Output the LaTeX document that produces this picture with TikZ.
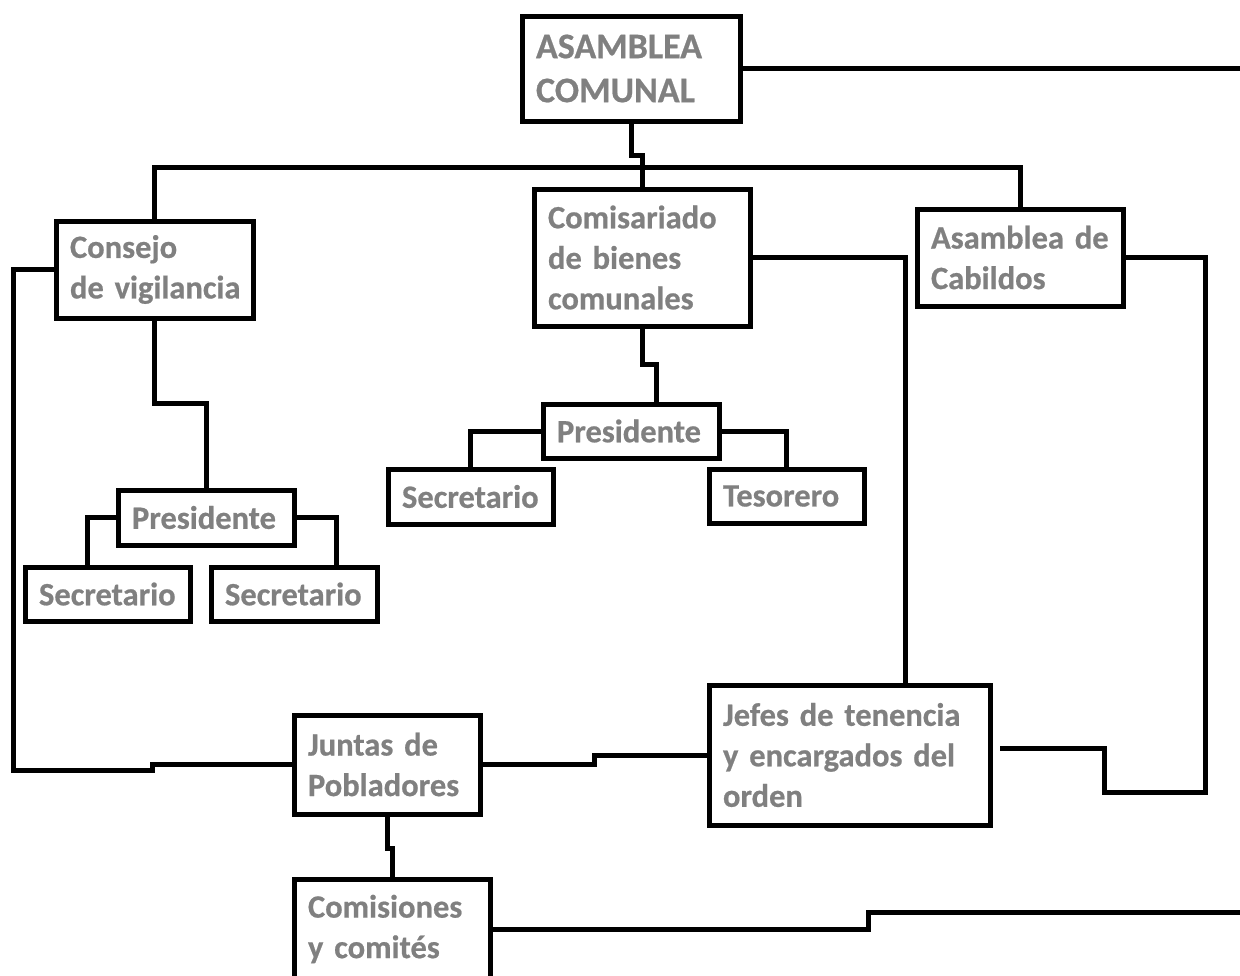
\documentclass[tikz,border=0pt]{standalone}
\usepackage{fontspec}
\setmainfont{Carlito}[BoldFeatures={FakeBold=0.6}]
\definecolor{txtgray}{RGB}{128,128,128}
\tikzset{
  box/.style={draw=black, line width=5pt, rectangle, outer sep=0pt, inner xsep=14pt, inner ysep=0pt,
    align=left, anchor=north west, text=txtgray, font=\fontsize{32.5}{40.5}\selectfont\bfseries},
  conn/.style={draw=black, line width=5pt, line join=miter},
}
\begin{document}
\begin{tikzpicture}[x=1pt,y=-1pt]
\useasboundingbox (0,0) rectangle (1240,975);
\fill[white] (0,0) rectangle (1240,975);
\coordinate (RE1) at (1240,0);
\coordinate (RE2) at (1240,912);
\coordinate (bus) at (640,167);

\node[box, font=\fontsize{36}{44}\selectfont\bfseries, minimum width=218pt, text width=190pt, minimum height=105pt] (asam) at (522,16) {\mbox{ASAMBLEA}\\\mbox{COMUNAL}};
\node[box, minimum width=197pt, text width=169pt, minimum height=97pt] (cons) at (56,221) {\mbox{Consejo}\\\mbox{de vigilancia}};
\node[box, minimum width=216pt, text width=188pt, minimum height=137pt] (comi) at (534,189) {\mbox{Comisariado}\\\mbox{de bienes}\\\mbox{comunales}};
\node[box, minimum width=206pt, text width=178pt, minimum height=97pt] (cab) at (917,209) {\mbox{Asamblea de}\\\mbox{Cabildos}};
\node[box, minimum width=176pt, text width=148pt, minimum height=55pt] (presL) at (118,490) {\mbox{Presidente}};
\node[box, minimum width=165pt, text width=137pt, minimum height=54pt] (secL1) at (25,567) {\mbox{Secretario}};
\node[box, minimum width=166pt, text width=138pt, minimum height=54pt] (secL2) at (211,567) {\mbox{Secretario}};
\node[box, minimum width=176pt, text width=148pt, minimum height=54pt] (presM) at (543,404) {\mbox{Presidente}};
\node[box, minimum width=165pt, text width=137pt, minimum height=55pt] (secM) at (388,469) {\mbox{Secretario}};
\node[box, minimum width=155pt, text width=127pt, minimum height=54pt] (tes) at (709,469) {\mbox{Tesorero}};
\node[box, minimum width=281pt, text width=253pt, minimum height=140pt] (jefes) at (709,685) {\mbox{Jefes de tenencia}\\\mbox{y encargados del}\\\mbox{orden}};
\node[box, minimum width=186pt, text width=158pt, minimum height=99pt] (junt) at (294,715) {\mbox{Juntas de}\\\mbox{Pobladores}};
\node[box, minimum width=196pt, text width=168pt, minimum height=100pt] (comis) at (294,879) {\mbox{Comisiones}\\\mbox{y comités}};

\coordinate (jfree) at ([xshift=10pt,yshift=7pt]jefes.east);

\draw[conn] (asam.east) -- (asam.east -| RE1);
\draw[conn] (asam.south) -- ++(0,34) -| (comi.north);
\draw[conn] (cons.north) |- (bus) -| (cab.north);
\draw[conn] (comi.east) -| ([xshift=55.5pt]jefes.north);
\draw[conn] (cab.east) -| ++(82,534.5) -- ++(-101,0) |- (jfree);
\draw[conn] (cons.west) -- ++(-42.5,0) -- ++(0,500.5) -- ++(139,0) |- (junt.west);
\draw[conn] (cons.south) -- ++(0,85) -| (presL.north);
\draw[conn] (presL.west) -| ([xshift=-20.5pt]secL1.north);
\draw[conn] (presL.east) -| ([xshift=42pt]secL2.north);
\draw[conn] (comi.south) -- ++(0,38) -| ([xshift=25pt]presM.north);
\draw[conn] (presM.west) -| (secM.north);
\draw[conn] (presM.east) -| (tes.north);
\draw[conn] (junt.east) -- ++(114,0) |- (jefes.west);
\draw[conn] (junt.south) -- ++(0,34) -| (comis.north);
\draw[conn] (comis.east) -- ++(378,0) |- (RE2);
\end{tikzpicture}
\end{document}
